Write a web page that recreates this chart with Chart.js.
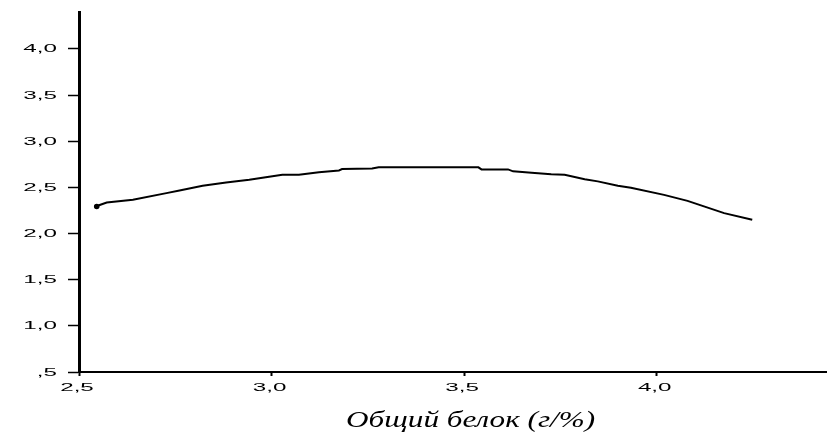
<!DOCTYPE html>
<html>
<head>
<meta charset="utf-8">
<script src="https://cdn.jsdelivr.net/npm/chart.js@4/dist/chart.umd.min.js"></script>
<style>
  html, body { margin: 0; padding: 0; background: #ffffff; }
  #wrap { width: 830px; height: 438px; }
</style>
</head>
<body>
<div id="wrap"><canvas id="c" width="830" height="438"></canvas></div>
<script>
// Fitted curve: total protein (g/%) on x, response on y
const proteinX = [2.546, 2.552, 2.572, 2.640, 2.727, 2.761, 2.821, 2.882, 2.942, 2.985,
                  3.028, 3.071, 3.123, 3.175, 3.183, 3.261, 3.278, 3.537, 3.545, 3.614,
                  3.627, 3.675, 3.726, 3.761, 3.813, 3.847, 3.899, 3.933, 4.019, 4.080,
                  4.175, 4.248];
const fitY = [2.293, 2.306, 2.336, 2.365, 2.438, 2.466, 2.517, 2.553, 2.582, 2.611,
              2.636, 2.636, 2.665, 2.683, 2.698, 2.704, 2.717, 2.717, 2.695, 2.695,
              2.674, 2.658, 2.641, 2.636, 2.589, 2.565, 2.517, 2.495, 2.419, 2.354,
              2.221, 2.149];

// Axis ticks and their labels
const xTickValues = [2.5, 3.0, 3.5, 4.0];
const xTickLabels = ['2,5', '3,0', '3,5', '4,0'];
const yTickValues = [0.5, 1.0, 1.5, 2.0, 2.5, 3.0, 3.5, 4.0];
const yTickLabels = [',5', '1,0', '1,5', '2,0', '2,5', '3,0', '3,5', '4,0'];
const xAxisTitle = 'Общий белок (г/%)';

const points = proteinX.map((x, i) => ({ x: x, y: fitY[i] }));

// Wide, horizontally stretched tick labels plus the axis caption
const axisText = {
  id: 'axisText',
  afterDraw(chart) {
    const ctx = chart.ctx;
    const xs = chart.scales.x;
    const ys = chart.scales.y;
    const stretch = 2.2;
    ctx.save();
    ctx.fillStyle = '#000000';
    ctx.font = '11px "Liberation Sans", Arial, sans-serif';
    ctx.textBaseline = 'middle';

    ctx.textAlign = 'right';
    yTickValues.forEach((v, i) => {
      const py = ys.getPixelForValue(v);
      ctx.save();
      ctx.translate(ys.right - 22, py + 0.5);
      ctx.scale(stretch, 1);
      ctx.fillText(yTickLabels[i], 0, 0);
      ctx.restore();
    });

    ctx.textAlign = 'center';
    xTickValues.forEach((v, i) => {
      const px = xs.getPixelForValue(v);
      ctx.save();
      ctx.translate(px - 2, xs.top + 16);
      ctx.scale(stretch, 1);
      ctx.fillText(xTickLabels[i], 0, 0);
      ctx.restore();
    });

    // caption, slightly widened like the tick labels
    ctx.font = 'italic 24px "Liberation Serif", "Times New Roman", serif';
    ctx.textAlign = 'center';
    ctx.textBaseline = 'alphabetic';
    ctx.save();
    ctx.translate((xs.left + xs.right) / 2 + 18, xs.top + 55);
    ctx.scale(1.3, 1);
    ctx.fillText(xAxisTitle, 0, 0);
    ctx.restore();
    ctx.restore();
  }
};

new Chart(document.getElementById('c'), {
  type: 'scatter',
  data: {
    datasets: [{
      data: points,
      showLine: true,
      borderColor: '#000000',
      backgroundColor: '#000000',
      borderWidth: 2,
      tension: 0,
      pointRadius: ctx => (ctx.dataIndex === 0 ? 1.8 : 0),
      pointHoverRadius: 0
    }]
  },
  options: {
    responsive: false,
    animation: false,
    events: [],
    layout: { padding: { top: 12, right: 0, bottom: 0, left: 0 } },
    plugins: {
      legend: { display: false },
      tooltip: { enabled: false },
      title: { display: false }
    },
    scales: {
      x: {
        type: 'linear',
        position: 'bottom',
        min: 2.5,
        max: 4.44,
        afterBuildTicks: s => { s.ticks = xTickValues.map(v => ({ value: v })); },
        afterFit: s => { s.height = 66; },
        ticks: { display: false },
        grid: {
          drawOnChartArea: false,
          drawTicks: true,
          tickLength: 4,
          tickWidth: 2,
          tickColor: '#000000'
        },
        border: { display: true, color: '#000000', width: 2 }
      },
      y: {
        type: 'linear',
        position: 'left',
        min: 0.5,
        max: 4.4,
        afterBuildTicks: s => { s.ticks = yTickValues.map(v => ({ value: v })); },
        afterFit: s => { s.width = 79; },
        ticks: { display: false },
        grid: {
          drawOnChartArea: false,
          drawTicks: true,
          tickLength: 11,
          tickWidth: 1.5,
          tickColor: '#000000'
        },
        border: { display: true, color: '#000000', width: 3 }
      }
    }
  },
  plugins: [axisText]
});
</script>
</body>
</html>
